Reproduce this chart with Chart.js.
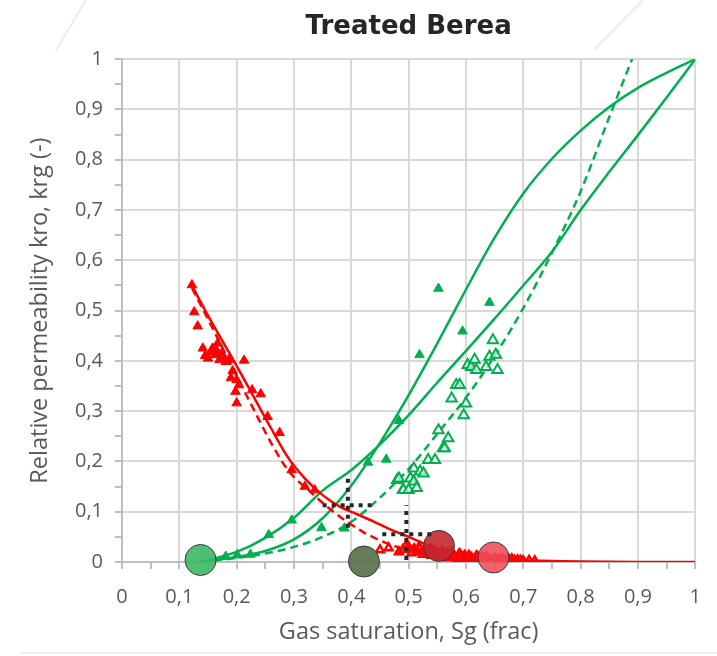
<!DOCTYPE html>
<html>
<head>
<meta charset="utf-8">
<script src="https://cdn.jsdelivr.net/npm/chart.js@4.4.1/dist/chart.umd.min.js"></script>
<style>
html,body{margin:0;padding:0;background:#fff;}
canvas{display:block;}
</style>
</head>
<body>
<canvas id="c" width="717" height="656"></canvas>
<script>
// ---------- data ----------
const chartTitle = 'Treated Berea';
const xTitle = 'Gas saturation, Sg (frac)';
const yTitle = 'Relative permeability kro, krg (-)';

// red filled triangles (kro measured)
const kroPtsX = [0.122,0.126,0.132,0.141,0.145,0.150,0.155,0.158,0.162,0.165,0.167,0.170,0.174,0.177,0.181,0.186,0.190,0.193,0.198,0.200,0.200,0.204,0.213,0.227,0.242,0.254,0.275,0.296,0.319,0.336];
const kroPtsY = [0.551,0.497,0.469,0.425,0.410,0.405,0.418,0.425,0.412,0.420,0.435,0.402,0.415,0.405,0.398,0.402,0.366,0.380,0.339,0.362,0.316,0.352,0.401,0.342,0.334,0.289,0.257,0.183,0.150,0.143];

// red open triangles (dense low-kro band)
const kroOpenX = [0.450,0.465,0.483,0.490,0.495,0.500,0.505,0.508,0.510,0.515,0.518,0.520,0.525,0.528,0.530,0.535,0.538,0.540,0.545,0.548,0.550,0.555,0.558,0.560,0.565,0.568,0.570,0.575,0.578,0.580,0.585,0.588,0.590,0.595,0.598,0.600,0.605,0.608,0.610,0.615,0.618,0.620,0.625,0.628,0.630,0.635,0.638,0.640,0.645,0.650,0.655,0.660,0.665,0.670,0.675,0.680,0.685,0.690,0.695,0.700,0.710,0.720];
const kroOpenY = [0.024,0.028,0.020,0.025,0.032,0.030,0.018,0.024,0.026,0.020,0.030,0.028,0.015,0.022,0.024,0.020,0.026,0.013,0.022,0.016,0.017,0.010,0.021,0.020,0.014,0.018,0.008,0.018,0.011,0.012,0.006,0.016,0.015,0.010,0.013,0.005,0.013,0.009,0.008,0.004,0.012,0.011,0.007,0.010,0.003,0.010,0.006,0.006,0.003,0.008,0.005,0.005,0.007,0.003,0.005,0.006,0.003,0.004,0.003,0.002,0.003,0.002];

// red solid model curve
const kroSolidX = [0.122,0.15,0.18,0.20,0.23,0.26,0.29,0.32,0.35,0.38,0.41,0.44,0.47,0.50,0.53,0.56,0.60,0.65,0.70,0.75,0.80,0.90,1.00];
const kroSolidY = [0.550,0.490,0.430,0.390,0.328,0.266,0.207,0.165,0.133,0.110,0.095,0.080,0.064,0.050,0.035,0.021,0.012,0.006,0.003,0.002,0.001,0.000,0.000];

// red dashed model curve
const kroDashX = [0.122,0.15,0.18,0.20,0.23,0.26,0.29,0.33,0.36,0.39,0.42,0.45,0.48,0.51,0.55,0.60,0.65,0.70];
const kroDashY = [0.545,0.483,0.415,0.370,0.303,0.237,0.182,0.138,0.108,0.082,0.060,0.043,0.030,0.020,0.010,0.005,0.002,0.000];

// green filled triangles (krg measured)
const krgPtsX = [0.181,0.201,0.224,0.256,0.296,0.348,0.388,0.429,0.461,0.483,0.519,0.552,0.594,0.641];
const krgPtsY = [0.011,0.014,0.015,0.054,0.083,0.068,0.067,0.198,0.204,0.281,0.412,0.544,0.459,0.516];

// green open triangles
const krgOpenX = [0.480,0.483,0.490,0.491,0.500,0.503,0.509,0.509,0.514,0.520,0.526,0.534,0.546,0.552,0.560,0.563,0.569,0.575,0.583,0.589,0.596,0.600,0.603,0.609,0.615,0.618,0.635,0.641,0.647,0.652,0.655];
const krgOpenY = [0.163,0.166,0.143,0.143,0.143,0.166,0.160,0.186,0.147,0.180,0.176,0.203,0.203,0.262,0.226,0.226,0.246,0.325,0.352,0.352,0.292,0.315,0.392,0.388,0.402,0.382,0.388,0.408,0.441,0.412,0.382];

// green solid curve A (steep, concave at top)
const krgAX = [0.137,0.20,0.25,0.30,0.35,0.40,0.45,0.50,0.55,0.60,0.65,0.70,0.75,0.80,0.85,0.90,0.95,1.00];
const krgAY = [0.000,0.010,0.022,0.045,0.087,0.152,0.237,0.332,0.435,0.542,0.645,0.733,0.802,0.858,0.905,0.943,0.973,1.000];

// green solid curve B (straighter)
const krgBX = [0.137,0.20,0.25,0.30,0.35,0.40,0.45,0.50,0.55,0.60,0.65,0.70,0.75,0.80,0.85,0.90,0.95,1.00];
const krgBY = [0.000,0.020,0.048,0.088,0.142,0.183,0.234,0.292,0.357,0.420,0.484,0.550,0.617,0.700,0.776,0.849,0.924,1.000];

// green dashed curve
const krgDashX = [0.137,0.20,0.25,0.30,0.35,0.40,0.45,0.50,0.55,0.60,0.65,0.70,0.75,0.80,0.85,0.90];
const krgDashY = [0.000,0.008,0.017,0.030,0.050,0.080,0.128,0.185,0.255,0.327,0.410,0.505,0.615,0.737,0.885,1.030];

// end-point circles
const circX = [0.137,0.422,0.553,0.648];
const circY = [0.004,0.001,0.032,0.009];
const circColors = ['rgba(60,185,100,0.9)','rgba(88,115,75,0.92)','rgba(196,40,48,0.9)','rgba(238,76,88,0.88)'];

// dotted crosses (uncertainty bars)
const cross1V = {x:[0.394,0.394], y:[0.068,0.173]};
const cross1H = {x:[0.350,0.442], y:[0.113,0.113]};
const cross2V = {x:[0.496,0.496], y:[0.004,0.113]};
const cross2H = {x:[0.454,0.546], y:[0.055,0.055]};

// axis ticks
const tickStep = 0.05;
const axisMin = 0, axisMax = 1;

// ---------- helpers ----------
const pts = (xs, ys) => xs.map((x, i) => ({x, y: ys[i]}));
const GREEN = '#00b050', RED = '#ff0000';

const lineDS = (xs, ys, color, dashed, order) => ({
  data: pts(xs, ys), showLine: true, borderColor: color, borderWidth: 2.5,
  borderDash: dashed ? [8,5] : [], pointRadius: 0, cubicInterpolationMode: 'monotone', fill: false, order
});
const crossDS = (c) => ({
  data: pts(c.x, c.y), showLine: true, borderColor: '#262626', borderWidth: 4,
  borderDash: [4,5], borderCapStyle: 'butt', pointRadius: 0, tension: 0, order: 0, clip: false
});

const isMajor = v => Math.abs(Math.round(v * 100) % 10) === 0;
const fmt = v => isMajor(v) ? String(Math.round(v * 10) / 10).replace('.', ',') : '';

const bgDeco = {
  id: 'bgDeco',
  beforeDraw(chart) {
    const c = chart.ctx;
    c.save();
    c.fillStyle = '#fff';
    c.fillRect(0, 0, chart.width, chart.height);
    c.strokeStyle = '#ececec';
    c.lineWidth = 2;
    c.beginPath();
    c.moveTo(86, 0); c.lineTo(56, 50);
    c.moveTo(643, 0); c.lineTo(594, 50);
    c.stroke();
    c.strokeStyle = '#f0f0f0';
    c.beginPath();
    c.moveTo(20, 653); c.lineTo(717, 653);
    c.stroke();
    c.restore();
  }
};

const tickFont = {family: "'Open Sans', sans-serif", size: 20};
const axisTitleFont = {family: "'Open Sans', sans-serif", size: 23.5};
const gridColor = ctx => (ctx.tick && isMajor(ctx.tick.value)) ? '#d9d9d9' : 'rgba(0,0,0,0)';

new Chart(document.getElementById('c'), {
  type: 'scatter',
  data: {
    datasets: [
      crossDS(cross1V), crossDS(cross1H), crossDS(cross2V), crossDS(cross2H),
      {data: pts(circX, circY), pointRadius: 15.5, pointHoverRadius: 15.5, pointStyle: 'circle',
       backgroundColor: circColors, borderColor: '#3a3a3a', borderWidth: 1, order: 1, clip: false},
      {data: pts(kroPtsX, kroPtsY), pointStyle: 'triangle', pointRadius: 5.5,
       backgroundColor: RED, borderColor: RED, borderWidth: 1, order: 2},
      {data: pts(kroOpenX, kroOpenY), pointStyle: 'triangle', pointRadius: 4.5,
       backgroundColor: 'rgba(255,255,255,0)', borderColor: RED, borderWidth: 2.5, order: 2},
      {data: pts(krgPtsX, krgPtsY), pointStyle: 'triangle', pointRadius: 5.5,
       backgroundColor: GREEN, borderColor: GREEN, borderWidth: 1, order: 2},
      {data: pts(krgOpenX, krgOpenY), pointStyle: 'triangle', pointRadius: 6,
       backgroundColor: 'rgba(255,255,255,0.6)', borderColor: GREEN, borderWidth: 2, order: 2},
      lineDS(kroSolidX, kroSolidY, RED, false, 3),
      lineDS(kroDashX, kroDashY, RED, true, 3),
      lineDS(krgAX, krgAY, GREEN, false, 3),
      lineDS(krgBX, krgBY, GREEN, false, 3),
      lineDS(krgDashX, krgDashY, GREEN, true, 3)
    ]
  },
  options: {
    responsive: false,
    animation: false,
    devicePixelRatio: 1,
    layout: {padding: {left: 0, right: 15, top: 0, bottom: 0}},
    plugins: {
      legend: {display: false},
      tooltip: {enabled: false},
      title: {
        display: true, text: chartTitle, fullSize: false, color: '#262626',
        font: {family: "'DejaVu Sans', sans-serif", size: 26, weight: 'bold'},
        padding: {top: 12, bottom: 16}
      }
    },
    scales: {
      x: {
        type: 'linear', min: axisMin, max: axisMax,
        ticks: {stepSize: tickStep, autoSkip: false, maxRotation: 0, callback: fmt,
                color: '#595959', font: tickFont, padding: 16},
        grid: {color: gridColor, tickColor: '#bfbfbf', tickLength: 7, lineWidth: 2},
        border: {color: '#bfbfbf', width: 2},
        title: {display: true, text: xTitle, color: '#595959',
                font: axisTitleFont, padding: {top: 0, bottom: 10}},
        afterFit: s => { s.height = 94; }
      },
      y: {
        type: 'linear', min: axisMin, max: axisMax,
        ticks: {stepSize: tickStep, autoSkip: false, callback: fmt,
                color: '#595959', font: tickFont, padding: 12},
        grid: {color: gridColor, tickColor: '#bfbfbf', tickLength: 7, lineWidth: 2},
        border: {color: '#bfbfbf', width: 2},
        title: {display: true, text: yTitle, color: '#595959',
                font: axisTitleFont, padding: {top: 26, bottom: 0}},
        afterFit: s => { s.width = 122; }
      }
    }
  },
  plugins: [bgDeco]
});
</script>
</body>
</html>
